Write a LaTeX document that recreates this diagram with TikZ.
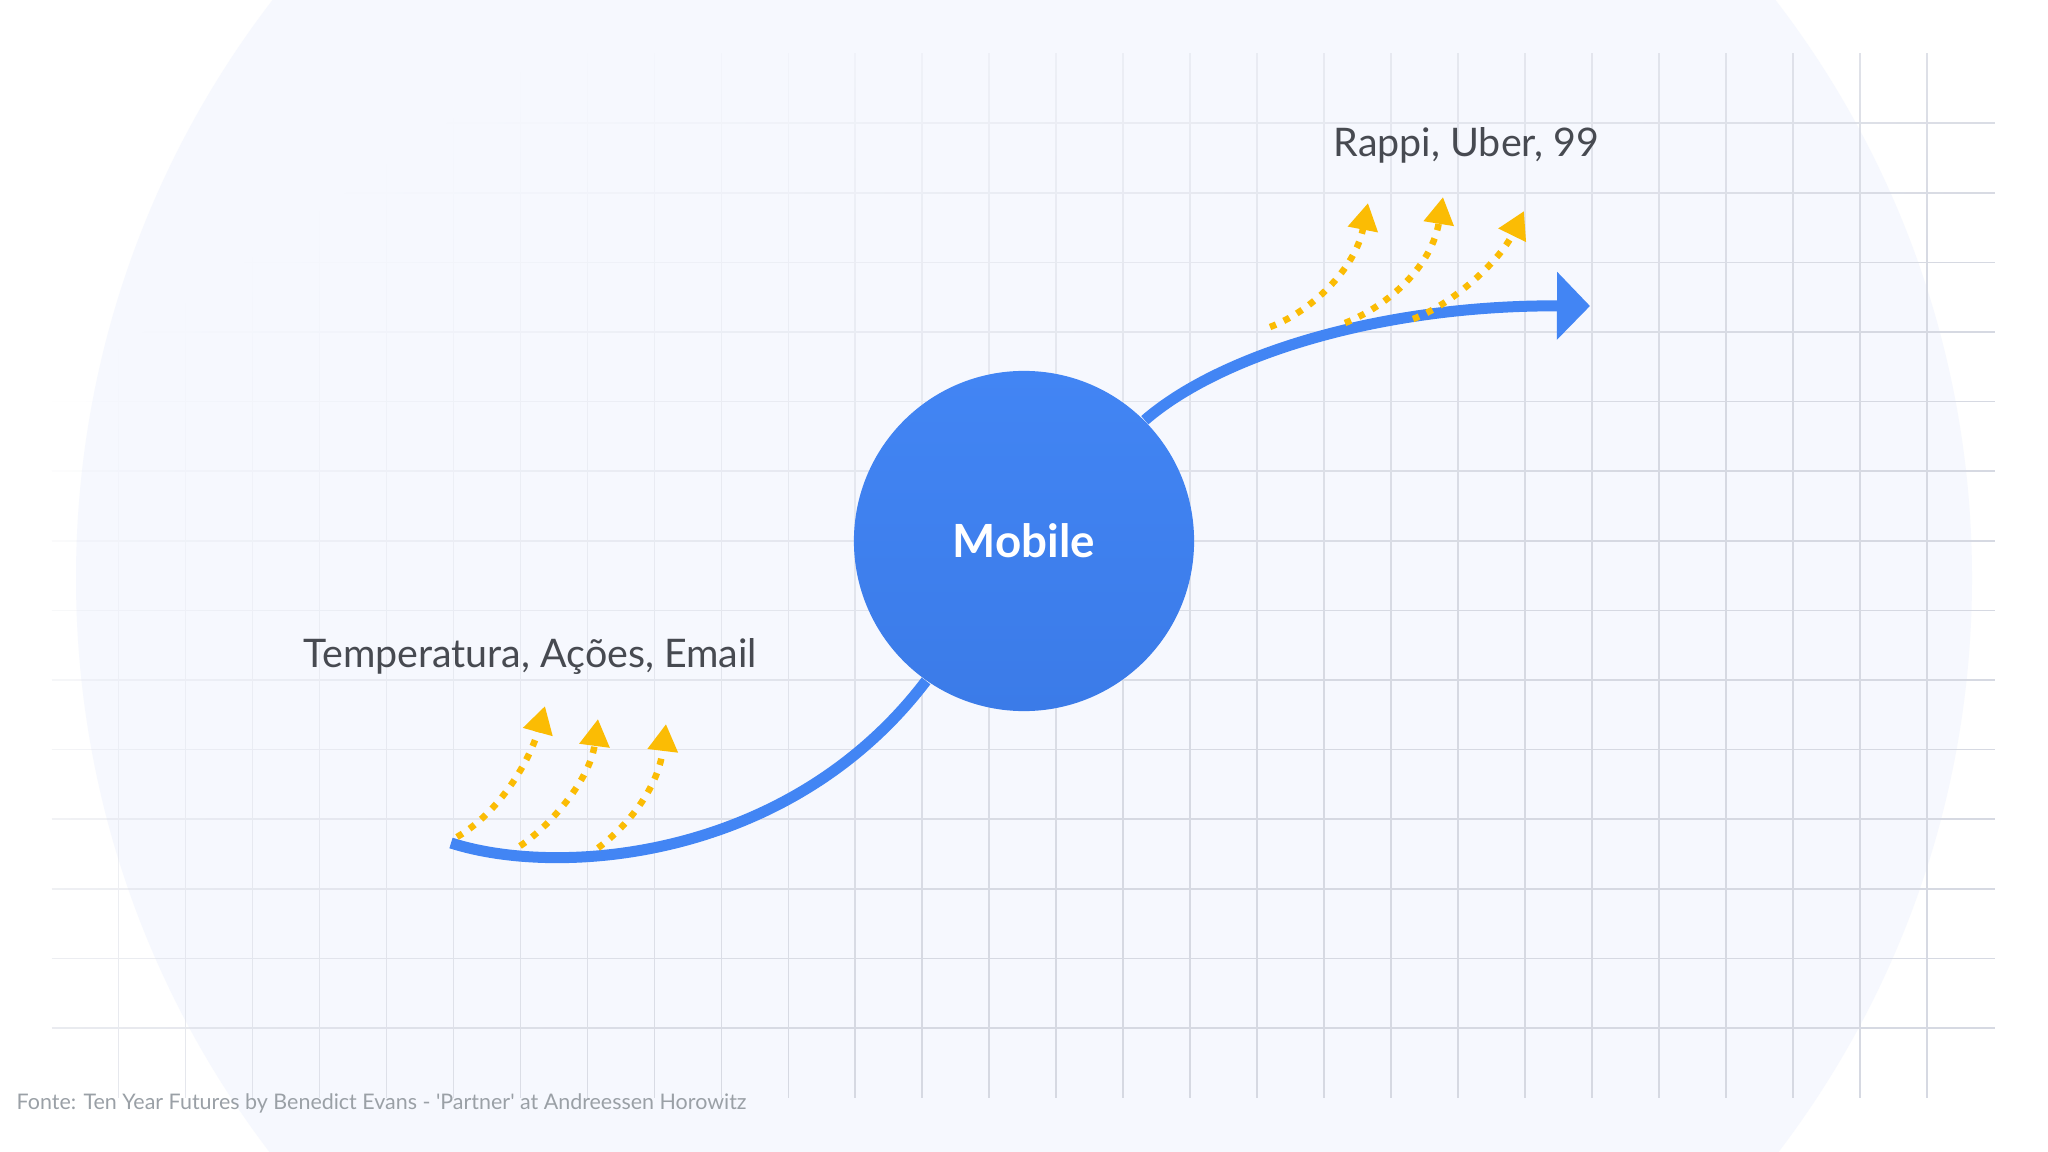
\documentclass[tikz,border=0pt]{standalone}
\usepackage{fontspec}
\setmainfont{Lato}
\usetikzlibrary{positioning,arrows.meta,fadings}

\definecolor{gblue}{HTML}{4285F4}
\definecolor{gbluedark}{HTML}{3B7BE8}
\definecolor{gyellow}{HTML}{FBBC04}
\definecolor{bgcircle}{HTML}{F6F8FE}
\definecolor{gridgray}{HTML}{D6D9E2}
\definecolor{labelgray}{HTML}{474A51}
\definecolor{notegray}{HTML}{9AA0A6}

\pgfdeclarehorizontalshading{gridshade}{100bp}{color(0bp)=(black); color(25bp)=(black); color(40bp)=(black!60!white); color(60bp)=(white); color(100bp)=(white)}
\tikzfading[name=gridfade, shade, shading=gridshade, shading angle=-38]

\begin{document}
\begin{tikzpicture}[x=0.01cm, y=-0.01cm,
        mainline/.style={gblue, line width=0.11cm},
        hint/.style={gyellow, line width=0.065cm, dash pattern=on 0.065cm off 0.085cm,
            -{Triangle[length=0.27cm, width=0.29cm]}},
        gridline/.style={gridgray, line width=0.016cm},
        itemtext/.style={labelgray, anchor=base west, inner sep=0pt, font=\fontsize{11.2}{13}\selectfont},
        mobile/.style={circle, minimum size=3.4cm, inner sep=0pt, top color=gblue, bottom color=gbluedark,
            text=white, font=\bfseries\fontsize{13}{15}\selectfont}]

    \useasboundingbox[fill=white] (0,0) rectangle (2048,1152);
    \fill[bgcircle] (1024,578) circle (948);

    % grid
    \draw[gridline, path fading=gridfade]
        \foreach \i in {0,...,27} {(119+67*\i,53) -- (119+67*\i,1098)}
        \foreach \j in {0,...,13} {(52,123+69.6*\j) -- (1996,123+69.6*\j)};

    \node[mobile] (mobile) at (1024,541) {Mobile};

    \coordinate (lowstart) at (451,843);
    \coordinate (arrowtip) at (1590,306);

    \coordinate (lowa)     at (457,837);
    \coordinate (lowatip)  at (545,706);
    \coordinate (lowb)     at (520,846);
    \coordinate (lowbtip)  at (598,719);
    \coordinate (lowc)     at (598,848);
    \coordinate (lowctip)  at (666,724);
    \coordinate (higha)    at (1270,327);
    \coordinate (highatip) at (1368,203);
    \coordinate (highb)    at (1345,323);
    \coordinate (highbtip) at (1443,197);
    \coordinate (highc)    at (1413,319);
    \coordinate (highctip) at (1524,211);

    % main curve
    \draw[mainline] (lowstart) .. controls (560,878) and (790,860) .. (mobile.235);
    \draw[mainline, -{Triangle[length=0.33cm, width=0.66cm]}]
        (mobile.45) .. controls (1220,355) and (1380,305) .. (arrowtip);

    % yellow hints
    \draw[hint] (lowa)  .. controls (500,812)  and (530,760)  .. (lowatip);
    \draw[hint] (lowb)  .. controls (550,826)  and (590,780)  .. (lowbtip);
    \draw[hint] (lowc)  .. controls (625,828)  and (658,790)  .. (lowctip);
    \draw[hint] (higha) .. controls (1310,312) and (1355,270) .. (highatip);
    \draw[hint] (highb) .. controls (1390,305) and (1432,265) .. (highbtip);
    \draw[hint] (highc) .. controls (1455,303) and (1500,260) .. (highctip);

    % labels
    \node[itemtext] (lowlabel)  at (303,667)  {Temperatura, Ações, Email};
    \node[itemtext] (highlabel) at (1333,157) {Rappi, Uber, 99};
    \node[itemtext, text=notegray, font=\fontsize{6.1}{7}\selectfont] (source) at (16,1109)
        {Fonte: Ten Year Futures by Benedict Evans - \textquotesingle Partner\textquotesingle{} at Andreessen Horowitz};
\end{tikzpicture}
\end{document}
